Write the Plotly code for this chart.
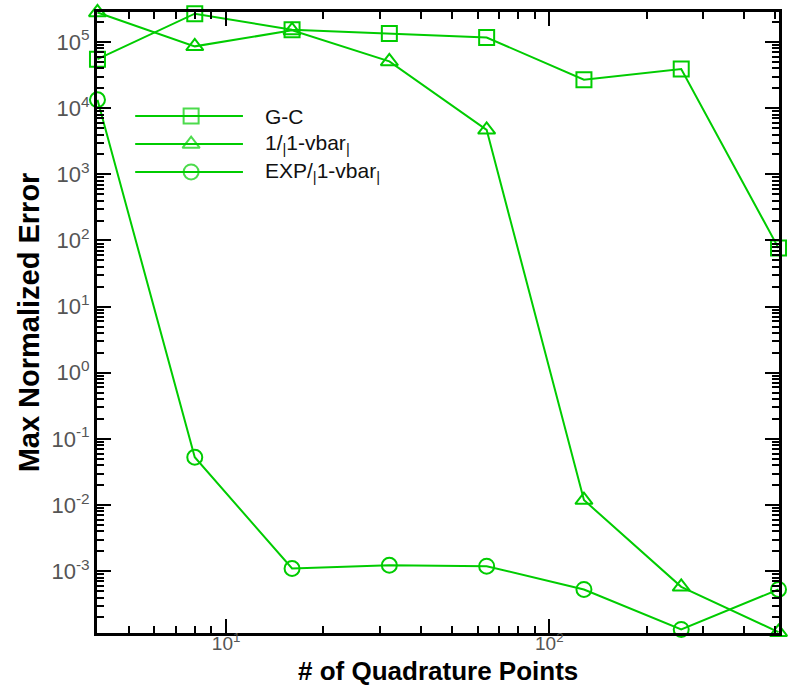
import plotly.graph_objects as go
import math

# Number of quadrature points
quad_points = [4, 8, 16, 32, 64, 128, 256, 512]

# Max normalized error for each scheme
err_gc = [5.5e4, 2.68e5, 1.54e5, 1.34e5, 1.17e5, 2.7e4, 3.9e4, 76.7]
err_inv = [2.8e5, 8.6e4, 1.5e5, 5.1e4, 4.7e3, 1.19e-2, 5.8e-4, 1.2e-4]
err_exp = [1.34e4, 5.28e-2, 1.1e-3, 1.23e-3, 1.19e-3, 5.3e-4, 1.32e-4, 5.3e-4]

series_names = ["G-C", "1/<sub>|</sub>1-vbar<sub>|</sub>", "EXP/<sub>|</sub>1-vbar<sub>|</sub>"]
series_symbols = ["square-open", "triangle-up-open", "circle-open"]

# Decade tick labels
x_exponents = [1, 2]
y_exponents = [-3, -2, -1, 0, 1, 2, 3, 4, 5]

GREEN = "#00cc00"
AXIS_FONT = "Liberation Sans, Arial, sans-serif"

fig = go.Figure()

for vals, sym in zip([err_gc, err_inv, err_exp], series_symbols):
    fig.add_trace(go.Scatter(
        x=quad_points, y=vals, mode="lines+markers",
        line=dict(color=GREEN, width=2),
        marker=dict(symbol=sym, size=15, color=GREEN, line=dict(color=GREEN, width=2)),
        cliponaxis=False, showlegend=False,
    ))

# Legend drawn on an overlay axis so the sample lines can be long
leg_x0, leg_x1, leg_xm = 0.056, 0.214, 0.138
leg_rows = [0.8325, 0.7874, 0.7424]
for row, sym in zip(leg_rows, series_symbols):
    fig.add_trace(go.Scatter(
        x=[leg_x0, leg_xm, leg_x1], y=[row, row, row], mode="lines+markers",
        line=dict(color=GREEN, width=2),
        marker=dict(symbol=sym, size=[0, 15, 0], color=GREEN,
                    line=dict(color=GREEN, width=2)),
        xaxis="x2", yaxis="y2", showlegend=False, hoverinfo="skip",
    ))

annotations = []
for row, name in zip(leg_rows, series_names):
    annotations.append(dict(
        xref="paper", yref="paper", x=0.2434, y=row, xanchor="left", yanchor="middle",
        text=name, showarrow=False, font=dict(family=AXIS_FONT, size=21, color="#111"),
    ))

# x-axis title placed below the tick labels
annotations.append(dict(
    xref="paper", yref="paper", x=0.5, y=-0.0875, xanchor="center", yanchor="bottom",
    text="<b># of Quadrature Points</b>", showarrow=False, borderpad=0,
    font=dict(family=AXIS_FONT, size=26, color="black"),
))


def axis_style(exponents, size):
    return dict(
        type="log", showgrid=False, zeroline=False,
        showline=True, linecolor="black", linewidth=3, mirror="allticks",
        ticks="inside", ticklen=14, tickwidth=2, tickcolor="black",
        tickvals=[10 ** e for e in exponents],
        ticktext=["10<sup>%d</sup>" % e for e in exponents],
        tickfont=dict(family=AXIS_FONT, size=size, color="#555"),
        minor=dict(ticks="inside", ticklen=7, tickwidth=1.5, tickcolor="black", dtick="D1"),
        automargin=False,
    )


eps = 0.0015
fig.update_layout(
    width=793, height=688,
    margin=dict(l=97, r=14, t=12, b=55),
    paper_bgcolor="white", plot_bgcolor="white",
    xaxis=dict(
        **axis_style(x_exponents, 19),
        ticklabelstandoff=-9,
        range=[math.log10(4) - eps, math.log10(512) + eps],
    ),
    yaxis=dict(
        **axis_style(y_exponents, 22),
        range=[-3.934, 5.454],
        title=dict(text="<b>Max Normalized Error</b>", standoff=4,
                   font=dict(family=AXIS_FONT, size=29, color="black")),
    ),
    xaxis2=dict(overlaying="x", range=[0, 1], visible=False),
    yaxis2=dict(overlaying="y", range=[0, 1], visible=False),
    annotations=annotations,
)

fig.write_html("out.html")
